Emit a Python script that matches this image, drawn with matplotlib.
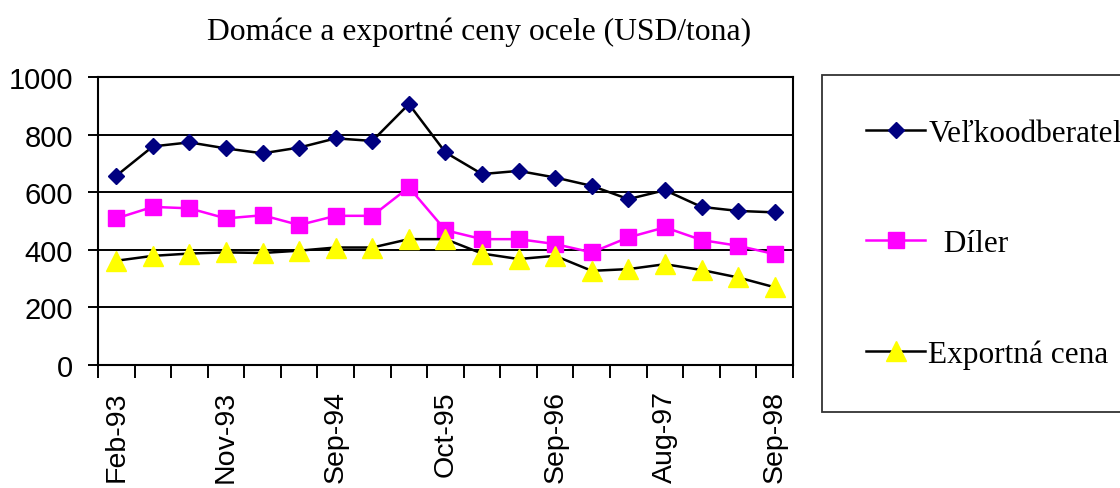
import numpy
from matplotlib import pyplot

# mesiace (19 bodov, popis kazdy treti)
mesiace = ['Feb-93', 'May-93', 'Aug-93', 'Nov-93', 'Feb-94', 'May-94',
           'Sep-94', 'Dec-94', 'Mar-95', 'Oct-95', 'Jan-96', 'May-96',
           'Sep-96', 'Dec-96', 'Apr-97', 'Aug-97', 'Dec-97', 'Apr-98',
           'Sep-98']
velkoodberatel = [657, 759, 773, 752, 735, 755, 787, 778, 906, 738,
                  663, 674, 651, 622, 576, 607, 549, 535, 530]
diler = [509, 549, 544, 509, 520, 486, 518, 518, 617, 468,
         437, 437, 420, 391, 443, 478, 434, 414, 385]
exportna_cena = [362, 379, 387, 391, 389, 397, 408, 408, 437, 437,
                 387, 368, 379, 327, 333, 350, 330, 304, 270]
y_ticks = [0, 200, 400, 600, 800, 1000]

SANS = 'Liberation Sans'
SERIF = 'Liberation Serif'

fig = pyplot.figure(figsize=(11.2, 4.89), dpi=100)
ax = fig.add_axes([0.0875, 0.2515, 0.6205, 0.589])

x = numpy.arange(len(mesiace))

l1, = ax.plot(x, velkoodberatel, color='black', lw=1.8, marker='D',
              ms=7.8, mfc='#000080', mec='#000080', zorder=4)
l2, = ax.plot(x, diler, color='#ff00ff', lw=1.8, marker='s',
              ms=12, mfc='#ff00ff', mec='#ff00ff', zorder=3)
l3, = ax.plot(x, exportna_cena, color='black', lw=1.8, marker='^',
              ms=14, mfc='#ffff00', mec='#ffff00', zorder=3)

ax.set_xlim(-0.5, len(mesiace) - 0.5)
ax.set_ylim(0, 1000)

# mriezka
for v in y_ticks[1:]:
    ax.axhline(v, color='black', lw=1.4, zorder=1)

ax.set_yticks(y_ticks)
ax.set_yticklabels([str(v) for v in y_ticks], family=SANS, fontsize=21)
ax.tick_params(axis='y', direction='out', length=7, width=1.4, pad=11)

ax.set_xticks(x[::3])
ax.set_xticklabels(mesiace[::3], rotation=90, family=SANS, fontsize=20.5)
ax.set_xticks(numpy.arange(-0.5, len(mesiace), 1.0), minor=True)
ax.tick_params(axis='x', which='major', length=0, pad=18)
ax.tick_params(axis='x', which='minor', direction='out', length=9,
               width=1.4)

for s in ax.spines.values():
    s.set_linewidth(1.5)
    s.set_color('black')

fig.text(0.428, 0.935, 'Domáce a exportné ceny ocele (USD/tona)',
         family=SERIF, fontsize=22.8, ha='center', va='center')

leg = fig.legend([l1, l2, l3], ['Veľkoodberateľ', '  Díler', 'Exportná cena'],
                 loc='upper left', bbox_to_anchor=(0.734, 0.845),
                 borderaxespad=0, frameon=True, fancybox=False,
                 prop={'family': SERIF, 'size': 22.5}, handlelength=1.9,
                 handletextpad=0.1, labelspacing=2.6, borderpad=1.4)
leg.get_frame().set_edgecolor('black')
leg.get_frame().set_linewidth(1.3)

fig.savefig('out.png', dpi=100)
